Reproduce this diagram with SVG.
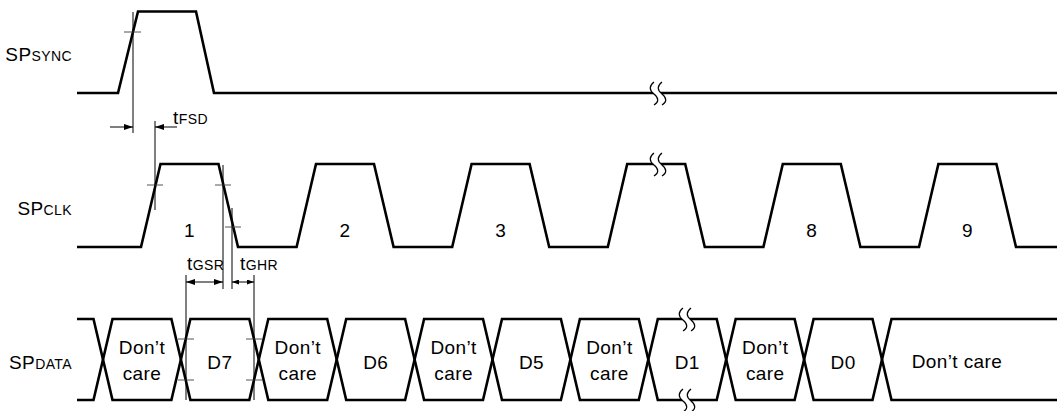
<svg xmlns="http://www.w3.org/2000/svg" xmlns:xlink="http://www.w3.org/1999/xlink" width="1057" height="411" viewBox="0 0 1057 411">
<style>
.sig{fill:none;stroke:#000;stroke-width:2.6;stroke-linejoin:miter}
.thin{fill:none;stroke:#000;stroke-width:1}
.tick{fill:none;stroke:#555;stroke-width:1}
.lbl{font-family:"Liberation Sans",Arial,sans-serif;font-size:19px;letter-spacing:0.4px;fill:#000}
.sub{font-size:14px}
.brkf{fill:#fff;stroke:none}
.brkl{fill:none;stroke:#000;stroke-width:1.2}
</style>
<defs>
<marker id="ah" viewBox="0 0 9 6" refX="9" refY="3" markerWidth="9" markerHeight="6" markerUnits="userSpaceOnUse" orient="auto-start-reverse"><path d="M0,0 L9,3 L0,6 z" fill="#000"/></marker>
<marker id="ahs" viewBox="0 0 7 5" refX="7" refY="2.5" markerWidth="7" markerHeight="5" markerUnits="userSpaceOnUse" orient="auto-start-reverse"><path d="M0,0 L7,2.5 L0,5 z" fill="#000"/></marker>
<g id="brk">
<path class="brkf" d="M-4,-11 C-9,-7 -9,-3 -4,1 C1,5 1,9 -4,12 L4,12 C9,9 9,5 4,1 C-1,-3 -1,-7 4,-11 Z"/>
<path class="brkl" d="M-4,-11 C-9,-7 -9,-3 -4,1 C1,5 1,9 -4,12"/>
<path class="brkl" d="M4,-11 C-1,-7 -1,-3 4,1 C9,5 9,9 4,12"/>
</g>
</defs>

<g id="labels">
<text class="lbl" x="72" y="60.5" text-anchor="end">SP<tspan class="sub">SYNC</tspan></text>
<text class="lbl" x="72" y="215" text-anchor="end">SP<tspan class="sub">CLK</tspan></text>
<text class="lbl" x="72" y="369" text-anchor="end">SP<tspan class="sub">DATA</tspan></text>
</g>

<g id="sp-sync">
<path class="sig" d="M77,93 H118 L138,11.5 H196 L214,93 H1057"/>
<use xlink:href="#brk" href="#brk" x="658" y="93"/>
</g>

<g id="sp-clk">
<path class="sig" d="M77,247 H141 L160.5,164 H218.5 L238,247 H296.6 L316,164 H374 L393.6,247 H452.2 L471.6,164 H529.6 L549.2,247 H607.8 L627.2,164 H685.2 L704.8,247 H763.4 L782.8,164 H840.8 L860.4,247 H919 L938.4,164 H996.4 L1016,247 H1057"/>
<use xlink:href="#brk" href="#brk" x="658" y="164"/>
<g class="lbl" text-anchor="middle">
<text x="189.5" y="237">1</text>
<text x="345.1" y="237">2</text>
<text x="500.7" y="237">3</text>
<text x="811.8" y="237">8</text>
<text x="967.4" y="237">9</text>
</g>
</g>

<g id="sp-data">
<path class="sig" d="M77,319 H93.5 L103,359.5 L93.5,400 H77"/>
<path class="sig" d="M103,359.5 L112.5,319 H171.4 L180.9,359.5 L171.4,400 H112.5 Z"/>
<path class="sig" d="M180.9,359.5 L190.4,319 H249.3 L258.8,359.5 L249.3,400 H190.4 Z"/>
<path class="sig" d="M258.8,359.5 L268.3,319 H327.2 L336.7,359.5 L327.2,400 H268.3 Z"/>
<path class="sig" d="M336.7,359.5 L346.2,319 H405.1 L414.6,359.5 L405.1,400 H346.2 Z"/>
<path class="sig" d="M414.6,359.5 L424.1,319 H483 L492.5,359.5 L483,400 H424.1 Z"/>
<path class="sig" d="M492.5,359.5 L502,319 H560.9 L570.4,359.5 L560.9,400 H502 Z"/>
<path class="sig" d="M570.4,359.5 L579.9,319 H638.8 L648.3,359.5 L638.8,400 H579.9 Z"/>
<path class="sig" d="M648.3,359.5 L657.8,319 H716.7 L726.2,359.5 L716.7,400 H657.8 Z"/>
<path class="sig" d="M726.2,359.5 L735.7,319 H794.6 L804.1,359.5 L794.6,400 H735.7 Z"/>
<path class="sig" d="M804.1,359.5 L813.6,319 H872.5 L882,359.5 L872.5,400 H813.6 Z"/>
<path class="sig" d="M1057,319 H891.5 L882,359.5 L891.5,400 H1057"/>
<use xlink:href="#brk" href="#brk" x="687" y="319"/>
<use xlink:href="#brk" href="#brk" x="687" y="400"/>
<g class="lbl" text-anchor="middle">
<text x="142" y="354">Don’t</text><text x="142" y="380">care</text>
<text x="219.9" y="369">D7</text>
<text x="297.8" y="354">Don’t</text><text x="297.8" y="380">care</text>
<text x="375.7" y="369">D6</text>
<text x="453.6" y="354">Don’t</text><text x="453.6" y="380">care</text>
<text x="531.5" y="369">D5</text>
<text x="609.4" y="354">Don’t</text><text x="609.4" y="380">care</text>
<text x="687.3" y="369">D1</text>
<text x="765.2" y="354">Don’t</text><text x="765.2" y="380">care</text>
<text x="843.1" y="369">D0</text>
<text x="957" y="368">Don’t care</text>
</g>
</g>

<g id="connectors">
<path class="tick" d="M124,32 H141 M147,185 H163 M215,185 H231 M225,227 H241 M178,339 H194 M178,380 H194 M246,339 H262 M246,380 H262"/>
<path class="thin" d="M133,12 V133 M155,121 V210 M223,165 V289 M232,208 V289 M186,275 V400 M254,275 V400"/>
<path class="thin" d="M110,127 H133" marker-end="url(#ah)"/>
<path class="thin" d="M177,127 H155" marker-end="url(#ah)"/>
<path class="thin" d="M186,282 H223" marker-start="url(#ah)" marker-end="url(#ah)"/>
<path class="thin" d="M232,282 H254" marker-start="url(#ahs)" marker-end="url(#ahs)"/>
<text class="lbl" x="173" y="124">t<tspan class="sub">FSD</tspan></text>
<text class="lbl" x="187" y="270">t<tspan class="sub">GSR</tspan></text>
<text class="lbl" x="240" y="270">t<tspan class="sub">GHR</tspan></text>
</g>
</svg>
